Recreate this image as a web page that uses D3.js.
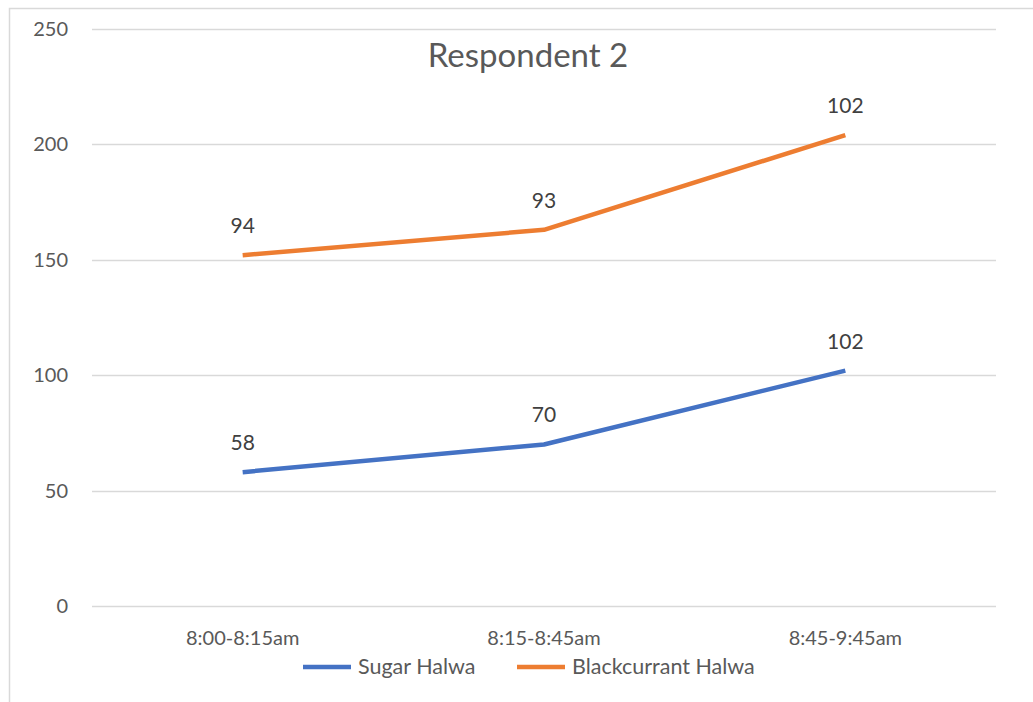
<!DOCTYPE html>
<html>
<head>
<meta charset="utf-8">
<script src="https://cdn.jsdelivr.net/npm/d3@7"></script>
<style>
  html, body { margin: 0; padding: 0; background: #fff; }
  svg { display: block; font-family: Lato, "Open Sans", sans-serif; }
</style>
</head>
<body>
<svg id="chart" width="1033" height="702"></svg>
<script>
// Time slots and per-slot counts for each halwa (lines are stacked)
const categories = ["8:00-8:15am", "8:15-8:45am", "8:45-9:45am"];
const sugarHalwa = [58, 70, 102];
const blackcurrantHalwa = [94, 93, 102];
const seriesNames = ["Sugar Halwa", "Blackcurrant Halwa"];
const seriesColors = ["#4472C4", "#ED7D31"];
const yTicks = [0, 50, 100, 150, 200, 250];
const title = "Respondent 2";

const svg = d3.select("#chart");
const W = 1033, H = 702;
const FONT = "Lato, 'Open Sans', sans-serif";

// outer chart frame
svg.append("rect")
  .attr("x", 9.5).attr("y", 8.5)
  .attr("width", W + 20).attr("height", H + 20)
  .attr("fill", "#fff").attr("stroke", "#d9d9d9").attr("stroke-width", 1.5);

const plot = { left: 92, right: 996, top: 29, bottom: 606 };

const x = d3.scaleBand().domain(categories).range([plot.left, plot.right]);
const y = d3.scaleLinear().domain([0, 250]).range([plot.bottom, plot.top]);

// gridlines
svg.append("g").selectAll("line").data(yTicks).join("line")
  .attr("x1", plot.left).attr("x2", plot.right)
  .attr("y1", d => Math.round(y(d)) + 0.5).attr("y2", d => Math.round(y(d)) + 0.5)
  .attr("stroke", "#d9d9d9").attr("stroke-width", 1.5);

// y-axis labels
const yAxis = d3.axisLeft(y).tickValues(yTicks).tickSize(0).tickPadding(0);
const gy = svg.append("g").attr("transform", `translate(${plot.left - 24},0)`).call(yAxis);
gy.select(".domain").remove();
gy.selectAll("text").attr("fill", "#595959").style("font-size", "20px")
  .style("font-family", FONT);

// x-axis labels
const xAxis = d3.axisBottom(x).tickSize(0).tickPadding(0);
const gx = svg.append("g").attr("transform", `translate(0,${plot.bottom + 25})`).call(xAxis);
gx.select(".domain").remove();
gx.selectAll("text").attr("fill", "#595959").style("font-size", "20px")
  .style("font-family", FONT);

// title
svg.append("text")
  .attr("x", (plot.left + plot.right) / 2 - 16).attr("y", 67)
  .attr("text-anchor", "middle").attr("fill", "#595959")
  .style("font-size", "33px").text(title);

// stacked series
const rows = categories.map((c, i) => ({ cat: c, s: sugarHalwa[i], b: blackcurrantHalwa[i] }));
const stack = d3.stack().keys(["s", "b"]);
const stacked = stack(rows);

const line = d3.line()
  .x((d, i) => x(categories[i]) + x.bandwidth() / 2)
  .y(d => y(d[1]));

stacked.forEach((layer, k) => {
  svg.append("path")
    .datum(layer)
    .attr("d", line)
    .attr("fill", "none")
    .attr("stroke", seriesColors[k])
    .attr("stroke-width", 4.5)
    .attr("stroke-linejoin", "round");

  svg.append("g").selectAll("text").data(layer).join("text")
    .attr("x", (d, i) => x(categories[i]) + x.bandwidth() / 2)
    .attr("y", d => y(d[1]) - 22)
    .attr("text-anchor", "middle")
    .attr("fill", "#404040")
    .style("font-size", "21px")
    .text(d => d[1] - d[0]);
});

// legend
const legend = svg.append("g").attr("transform", "translate(303,667)");
const legendItems = [{ x: 0, name: seriesNames[0], color: seriesColors[0] },
                     { x: 214, name: seriesNames[1], color: seriesColors[1] }];
legendItems.forEach(it => {
  legend.append("line")
    .attr("x1", it.x).attr("x2", it.x + 48)
    .attr("y1", 0).attr("y2", 0)
    .attr("stroke", it.color).attr("stroke-width", 4.5);
  legend.append("text")
    .attr("x", it.x + 55).attr("y", 7)
    .attr("fill", "#595959").style("font-size", "21.5px")
    .text(it.name);
});
</script>
</body>
</html>
